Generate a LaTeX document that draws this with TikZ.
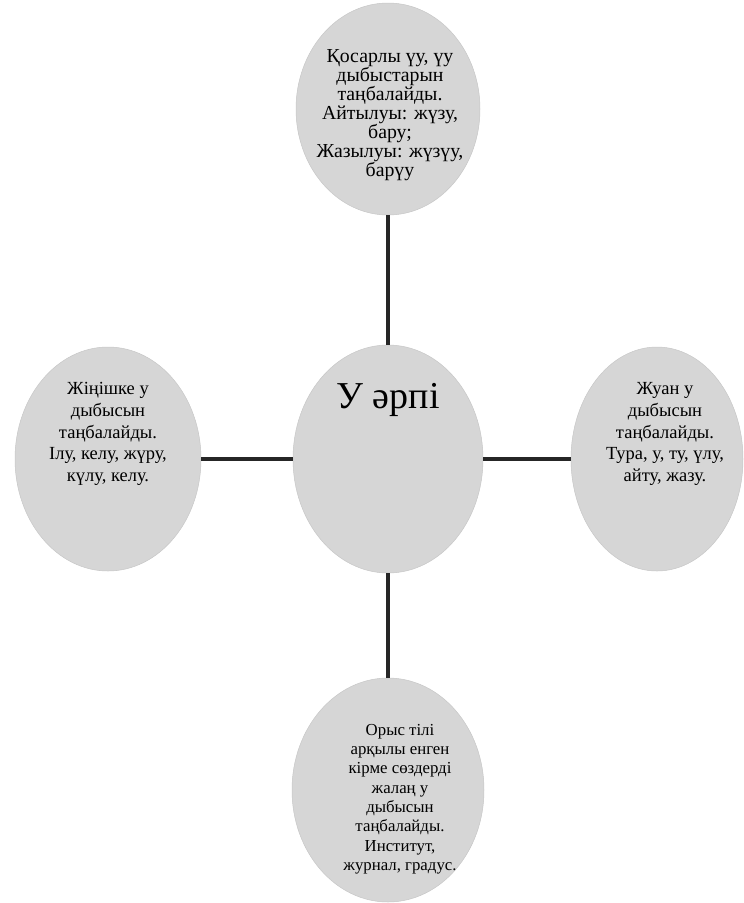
\documentclass[tikz,border=0pt]{standalone}
\usepackage{fontspec}
\setmainfont{Liberation Serif}
\usetikzlibrary{shapes.geometric}
\begin{document}
\begin{tikzpicture}[x=1pt,y=-1pt,
  bubble/.style={ellipse, fill=black!16, draw=black!22, line width=0.5pt, inner sep=0pt},
  toptxt/.style={align=center, font=\fontsize{19.8}{19}\selectfont, text=black},
  bottxt/.style={align=center, font=\fontsize{16.8}{19.3}\selectfont, text=black},
  sidetxt/.style={align=center, font=\fontsize{18.5}{21.7}\selectfont, text=black},
  link/.style={line width=4.5pt, draw=black!85}]
\useasboundingbox (0,0) rectangle (744,903);
% ellipses
\node[bubble, minimum width=190pt, minimum height=228pt] (c) at (388,459) {};
\node[bubble, minimum width=184pt, minimum height=212pt] (t) at (388,109) {};
\node[bubble, minimum width=186pt, minimum height=224pt] (l) at (108,459) {};
\node[bubble, minimum width=172pt, minimum height=224pt] (r) at (657,459) {};
\node[bubble, minimum width=192pt, minimum height=224pt] (b) at (388,790) {};
% connectors
\draw[link] (t.south) -- (c.north);
\draw[link] (c.south) -- (b.north);
\draw[link] (l.east) -- (c.west);
\draw[link] (c.east) -- (r.west);
% texts
\node[font=\fontsize{38}{44}\selectfont, text=black] (ct) at (388,400) {У әрпі};
\node[toptxt] (tt) at (390,115) {Қосарлы үу, үу\\дыбыстарын\\таңбалайды.\\Айтылуы: жүзу,\\бару;\\Жазылуы: жүзүу,\\барүу};
\node[sidetxt] (lt) at (108,434) {Жіңішке у\\дыбысын\\таңбалайды.\\Ілу, келу, жүру,\\күлу, келу.};
\node[sidetxt] (rt) at (665,434) {Жуан у\\дыбысын\\таңбалайды.\\Тура, у, ту, үлу,\\айту, жазу.};
\node[bottxt] (bt) at (400,799) {Орыс тілі\\арқылы енген\\кірме сөздерді\\жалаң у\\дыбысын\\таңбалайды.\\Институт,\\журнал, градус.};
\end{tikzpicture}
\end{document}
